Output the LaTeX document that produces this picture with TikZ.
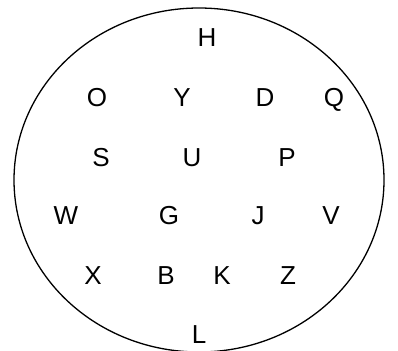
\documentclass[tikz,border=0pt]{standalone}
\usepackage{fontspec}
\setmainfont{Liberation Sans}
\usetikzlibrary{shapes.geometric}
\begin{document}
\begin{tikzpicture}[x=1pt,y=-1pt,
  lbl/.style={font=\fontsize{26}{30}\selectfont, inner sep=0pt, text height=18.6pt, text depth=0pt},
  outline/.style={draw, ellipse, line width=1.3pt, inner sep=0pt, minimum width=370pt, minimum height=344pt}]
\useasboundingbox (0,0) rectangle (398,350);
\node[outline] (E) at (199,180) {};
\node[lbl] (H) at (207,37) {H};
\node[lbl] (O) at (97,97) {O};
\node[lbl] (Y) at (182,97) {Y};
\node[lbl] (D) at (265,97) {D};
\node[lbl] (Q) at (334,97) {Q};
\node[lbl] (S) at (101,157) {S};
\node[lbl] (U) at (192,157) {U};
\node[lbl] (P) at (287,157) {P};
\node[lbl] (W) at (66,215) {W};
\node[lbl] (G) at (169,215) {G};
\node[lbl] (J) at (258,215) {J};
\node[lbl] (V) at (331,215) {V};
\node[lbl] (X) at (93,275) {X};
\node[lbl] (B) at (166,275) {B};
\node[lbl] (K) at (222,275) {K};
\node[lbl] (Z) at (288,275) {Z};
\node[lbl] (L) at (199,334) {L};
\end{tikzpicture}
\end{document}
